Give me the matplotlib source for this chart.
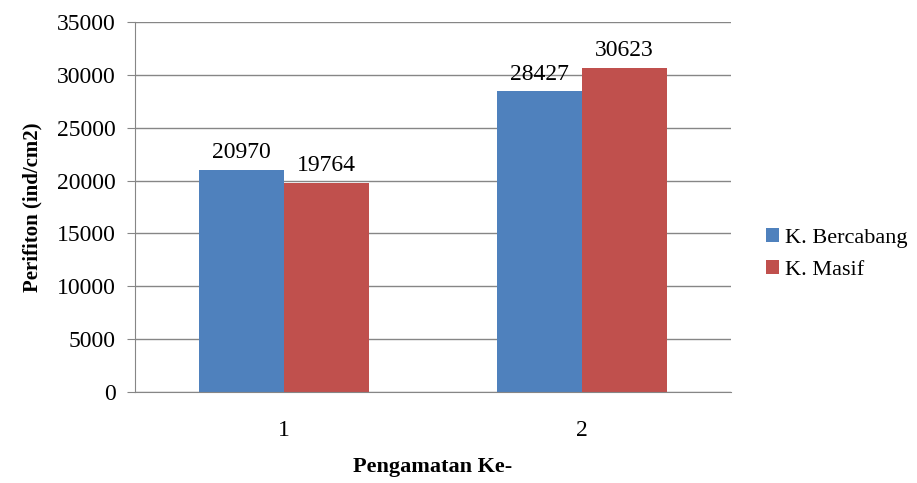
import matplotlib.pyplot as plt
import numpy as np

plt.rcParams['font.family'] = ['Liberation Serif', 'DejaVu Serif']

# data
categories = ['1', '2']
series = ['K. Bercabang', 'K. Masif']
bercabang = [20970, 28427]
masif = [19764, 30623]
colors = ['#4F81BD', '#C0504D']

fig = plt.figure(figsize=(9.17, 4.83), dpi=100)
ax = fig.add_axes([135 / 917, 1 - 392 / 483, 596 / 917, 370 / 483])

x = np.arange(1, len(categories) + 1)
w = 0.285
b1 = ax.bar(x - w / 2, bercabang, w, color=colors[0], label=series[0])
b2 = ax.bar(x + w / 2, masif, w, color=colors[1], label=series[1])

for bars in (b1, b2):
    for r in bars:
        ax.annotate(f'{int(r.get_height())}', (r.get_x() + r.get_width() / 2, r.get_height()),
                    xytext=(0, 5), textcoords='offset points', ha='center', va='bottom', fontsize=17)

ax.set_xlim(0.5, 2.5)
ax.set_ylim(0, 35000)
ax.set_yticks(range(0, 35001, 5000))
ax.set_xticks(x)
ax.set_xticklabels(categories)
ax.yaxis.grid(True, color='#868686', linewidth=1)
ax.set_axisbelow(True)
for s in ['top', 'right']:
    ax.spines[s].set_visible(False)
ax.spines['left'].set_color('#868686')
ax.spines['bottom'].set_color('#868686')
ax.tick_params(axis='y', length=6, color='#868686', labelsize=17, pad=8)
ax.tick_params(axis='x', length=0, labelsize=17, pad=20)

ax.set_ylabel('Perifiton (ind/cm2)', fontsize=15, fontweight='bold', labelpad=10)
ax.set_xlabel('Pengamatan Ke-', fontsize=16, fontweight='bold', labelpad=12)

fig.legend(loc='center left', bbox_to_anchor=(746 / 917, 1 - 254 / 483), frameon=False,
           fontsize=16, handlelength=0.6, handleheight=0.6, handletextpad=0.25, labelspacing=0.55)

fig.savefig('out.png', dpi=100)
